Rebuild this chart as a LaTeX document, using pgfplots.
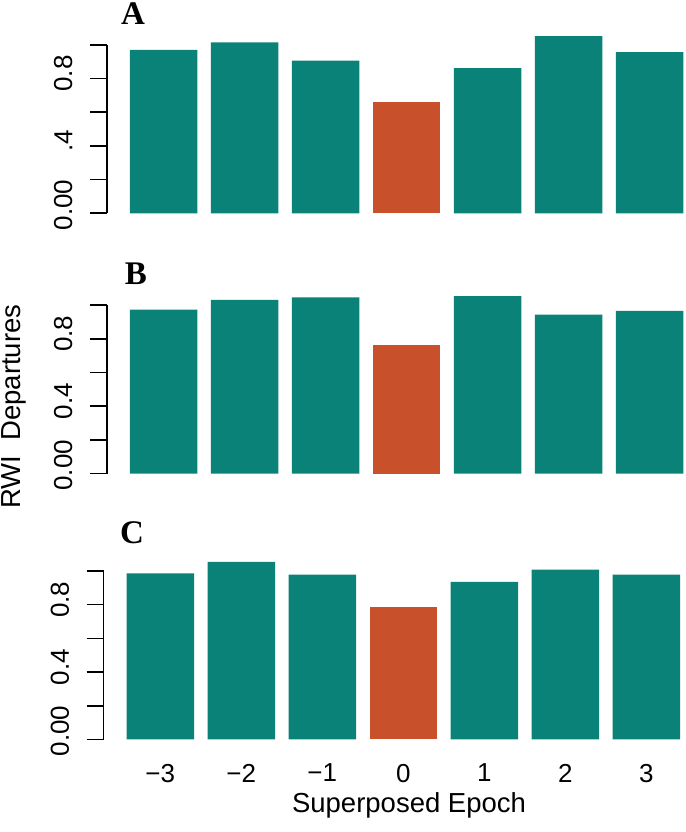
\documentclass[border=0pt]{standalone}
\usepackage{fontspec}
\setmainfont{Liberation Sans}
\newfontfamily\letterfont{Liberation Serif}
\usepackage{pgfplots}
\pgfplotsset{compat=1.18}
\definecolor{barteal}{HTML}{0A8278}
\definecolor{barorange}{HTML}{C8502A}
\tikzset{letter/.style={font=\letterfont\bfseries\fontsize{33}{37}\selectfont, inner sep=0pt, anchor=center}}
\begin{document}
\begin{tikzpicture}
\useasboundingbox (0,0) rectangle (685pt,832pt);
\pgfplotsset{
 panel/.style={
  scale only axis, x=81pt, y=168.5pt,
  xmin=-3.7, xmax=3.42, ymin=0, ymax=1,
  clip=false,
  axis y line*=left, axis x line*=bottom,
  x axis line style={draw=none},
  y axis line style={-, line width=1.6pt, black},
  xtick=\empty,
  ytick={0,0.2,0.4,0.6,0.8,1}, yticklabels={,,,,,},
  tick align=outside, major tick length=17pt,
  ytick style={line width=1.6pt, black},
  extra y ticks={0.05,0.43,0.83},
  extra y tick style={major tick length=0pt, yticklabel shift=31pt},
  yticklabel style={rotate=90, anchor=south, font=\fontsize{26}{30}\selectfont},
  xticklabel style={anchor=north, yshift=-4pt, font=\fontsize{26}{30}\selectfont},
  label style={font=\fontsize{27.5}{32}\selectfont},
  /pgf/number format/assume math mode=true,
 },
 tealbar/.style={ybar, bar width=67.5pt, bar shift=0pt, fill=barteal, draw=none},
 orbar/.style={ybar, bar width=67.5pt, bar shift=0pt, fill=barorange, draw=none},
}
% Panel A
\begin{axis}[panel, at={(107pt,618.7pt)}, anchor=south west,
  extra y tick labels={0.00,.4,0.8}]
\addplot[tealbar] coordinates {(-3,0.970) (-2,1.014) (-1,0.906) (1,0.862) (2,1.052) (3,0.956)};
\addplot[orbar] coordinates {(0,0.658)};
\end{axis}
% Panel B
\begin{axis}[panel, at={(107pt,358.3pt)}, anchor=south west,
  extra y tick labels={0.00,0.4,0.8},
  ylabel={RWI\ \ Departures},
  ylabel style={at={(axis description cs:-0.1613,0.398)}, anchor=center}]
\addplot[tealbar] coordinates {(-3,0.974) (-2,1.032) (-1,1.046) (1,1.054) (2,0.944) (3,0.966)};
\addplot[orbar] coordinates {(0,0.764)};
\end{axis}
% Panel C
\begin{axis}[panel, at={(103.6pt,92.5pt)}, anchor=south west,
  extra y tick labels={0.00,0.4,0.8},
  xtick={-3,-2,-1,0,1,2,3},
  xticklabels={−3,−2,−1,0,1,2,3},
  xtick style={draw=none},
  xlabel={Superposed Epoch},
  xlabel style={at={(axis description cs:0.5296,-0.389)}, anchor=center}]
\addplot[tealbar] coordinates {(-3,0.986) (-2,1.054) (-1,0.978) (1,0.936) (2,1.008) (3,0.978)};
\addplot[orbar] coordinates {(0,0.786)};
\end{axis}
\node[letter] at (133pt,818pt) {A};
\node[letter] at (136pt,558pt) {B};
\node[letter] at (132pt,299pt) {C};
\end{tikzpicture}
\end{document}
